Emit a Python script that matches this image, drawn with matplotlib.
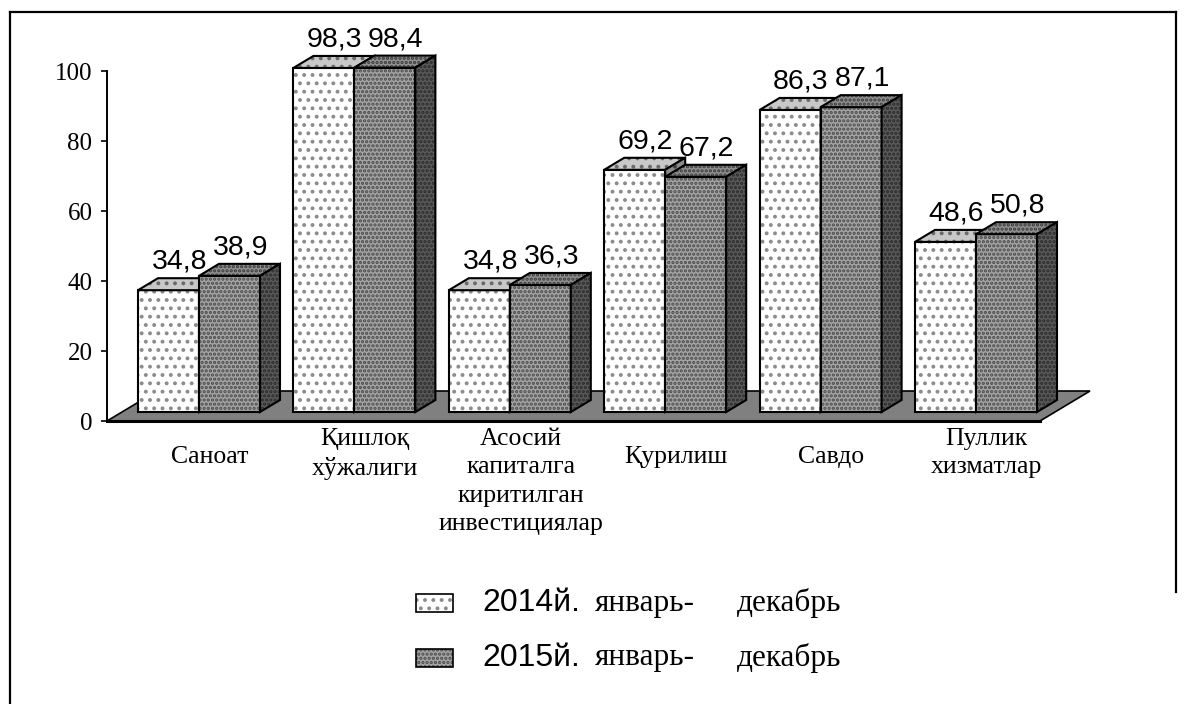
import numpy as np
import matplotlib.pyplot as plt
from matplotlib.patches import Polygon, Rectangle
from matplotlib.lines import Line2D

categories = ['Саноат', 'Қишлоқ\nхўжалиги',
              'Асосий\nкапиталга\nкиритилган\nинвестициялар',
              'Қурилиш', 'Савдо', 'Пуллик\nхизматлар']
vals_2014 = [34.8, 98.3, 34.8, 69.2, 86.3, 48.6]
vals_2015 = [38.9, 98.4, 36.3, 67.2, 87.1, 50.8]
series_years = ['2014й.', '2015й.']
period = ['январь-', 'декабрь']
yticks = [0, 20, 40, 60, 80, 100]

SERIF = ['Liberation Serif', 'DejaVu Serif']
SANS = ['Liberation Sans', 'DejaVu Sans']
plt.rcParams['hatch.linewidth'] = 1.6

W, H = 1192, 704
XU, YU = 155.4, 3.5          # pixels per x unit / per y unit
BW = 61 / XU                 # bar width
DDX, DDY = 20 / XU, 12 / YU  # bar depth offset
Y0 = 9 / YU                  # bar front baseline above floor front
FDX, FDY = 50 / XU, 30 / YU  # floor depth

# face styles: (facecolor, hatch colour, hatch)
styles = [
    {'front': ('white', '#8c8c8c', '..'), 'top': ('#c8c8c8', '#6a6a6a', '..'),
     'side': ('#8a8a8a', '#404040', '..')},
    {'front': ('#a4a4a4', '#4a4a4a', '....'), 'top': ('#909090', '#3a3a3a', '....'),
     'side': ('#5a5a5a', '#2a2a2a', '....')},
]


def face(ax, pts, st, lw=1.5):
    fc, hc, hatch = st
    ax.add_patch(Polygon(pts, closed=True, facecolor=fc, edgecolor=hc, hatch=hatch,
                         lw=0, clip_on=False))
    ax.add_patch(Polygon(pts, closed=True, fill=False, edgecolor='black', lw=lw,
                         clip_on=False))


def bar3d(ax, xl, v, st):
    xr = xl + BW
    yb, yt = Y0, Y0 + v
    face(ax, [(xl, yb), (xr, yb), (xr, yt), (xl, yt)], st['front'])
    face(ax, [(xl, yt), (xr, yt), (xr + DDX, yt + DDY), (xl + DDX, yt + DDY)], st['top'])
    face(ax, [(xr, yb), (xr + DDX, yb + DDY), (xr + DDX, yt + DDY), (xr, yt)], st['side'])


fig = plt.figure(figsize=(W / 100, H / 100), dpi=100)
ax = fig.add_axes([107 / W, 1 - 421 / H, (1100 - 107) / W, 350 / H])
xmin, xmax = (107 - 199) / XU, (1100 - 199) / XU
ax.set_xlim(xmin, xmax)
ax.set_ylim(0, 100)

# floor
fxr = (1040 - 199) / XU
floor = [(xmin, 0), (fxr, 0), (fxr + FDX, FDY), (xmin + FDX, FDY)]
ax.add_patch(Polygon(floor, closed=True, facecolor='#808080', edgecolor='black',
                     lw=1.2, clip_on=False, zorder=0.5))
ax.plot([xmin, fxr], [0, 0], color='black', lw=2.2, clip_on=False, zorder=0.6)

x = np.arange(len(categories))
for i in range(len(categories)):
    bar3d(ax, x[i] - BW, vals_2014[i], styles[0])
    bar3d(ax, x[i], vals_2015[i], styles[1])

for vals, off in [(vals_2014, -BW / 2), (vals_2015, BW / 2)]:
    for i, v in enumerate(vals):
        ax.text(x[i] + off + 0.07, Y0 + v + DDY + 1.0, f'{v:.1f}'.replace('.', ','),
                ha='center', va='bottom', fontsize=20.5, family=SANS, clip_on=False)

for i, lab in enumerate(categories):
    if '\n' in lab:
        ax.text(x[i] + 0.07, (421 - 428) / YU, lab, ha='center', va='top',
                fontsize=18.5, family=SERIF, linespacing=1.38)
    else:
        ax.text(x[i] + 0.07, (421 - 457) / YU, lab, ha='center', va='center',
                fontsize=18.5, family=SERIF)

for s in ['top', 'right', 'bottom']:
    ax.spines[s].set_visible(False)
ax.spines['left'].set_linewidth(1.4)
ax.set_xticks([])
ax.set_yticks(yticks)
ax.set_yticklabels([str(t) for t in yticks], family=SERIF, fontsize=18)
ax.tick_params(axis='y', direction='out', length=4.5, width=1.2, pad=6)
ax.patch.set_visible(False)

# legend
for k in range(2):
    yc = [603, 658][k]
    rect = (416 / W, 1 - (yc + 9) / H)
    st = styles[k]['front']
    fig.add_artist(Rectangle(rect, 37 / W, 18 / H, facecolor=st[0], edgecolor=st[1],
                             hatch=st[2], lw=0, transform=fig.transFigure))
    fig.add_artist(Rectangle(rect, 37 / W, 18 / H, fill=False, edgecolor='black',
                             lw=1.2, transform=fig.transFigure))
    fig.text(482 / W, 1 - yc / H, series_years[k], va='center', ha='left',
             fontsize=23, family=SANS)
    fig.text(595 / W, 1 - yc / H, period[0], va='center', ha='left',
             fontsize=22.5, family=SERIF)
    fig.text(737 / W, 1 - yc / H, period[1], va='center', ha='left',
             fontsize=22.5, family=SERIF)

# outer frame
for (xa, ya), (xb, yb) in [((10, 12), (10, 704)), ((10, 12), (1176, 12)),
                           ((1176, 12), (1176, 592))]:
    fig.add_artist(Line2D([xa / W, xb / W], [1 - ya / H, 1 - yb / H], color='black',
                          lw=1.6, transform=fig.transFigure))

fig.savefig('out.png', dpi=100)
